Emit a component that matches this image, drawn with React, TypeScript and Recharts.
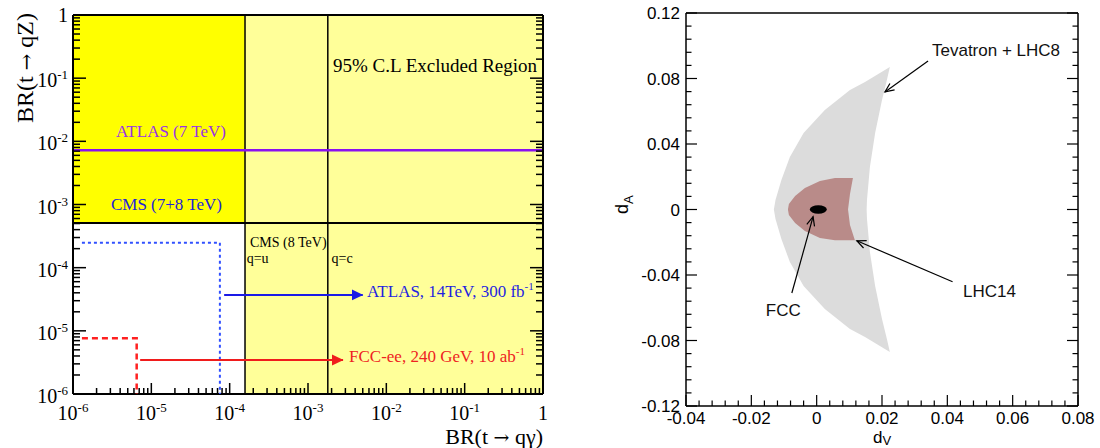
import React from "react";
import { ComposedChart, XAxis, YAxis, Scatter, ReferenceArea, ReferenceLine } from "recharts";

const SERIF = '"Liberation Serif", "Times New Roman", serif';
const SANS = '"Liberation Sans", Arial, Helvetica, sans-serif';
const ARROW_FONT = '"DejaVu Serif", serif';

// ---------- left panel: BR(t -> qZ) vs BR(t -> q gamma), log-log
const logMajor = [1e-6, 1e-5, 1e-4, 1e-3, 1e-2, 1e-1, 1];
const logMinor = logMajor.slice(0, -1).flatMap((d) => [2, 3, 4, 5, 6, 7, 8, 9].map((m) => m * d));
const logTicks = [...logMajor, ...logMinor];

// current limits
const cmsGammaU = 1.57e-4; // CMS 8 TeV, q=u
const cmsGammaC = 1.79e-3; // CMS 8 TeV, q=c
const cmsZ = 5.1e-4; // CMS 7+8 TeV
const atlasZ7 = 7.2e-3; // ATLAS 7 TeV

// future sensitivity
const atlas14Limit = [
  { x: 1.3e-6, y: 2.48e-4 },
  { x: 7.5e-5, y: 2.48e-4 },
  { x: 7.5e-5, y: 1e-6 },
];
const fccLimit = [
  { x: 1.3e-6, y: 7.6e-6 },
  { x: 6.5e-6, y: 7.6e-6 },
  { x: 6.5e-6, y: 1e-6 },
];
const atlas14Arrow = [
  { x: 8.5e-5, y: 3.7e-5 },
  { x: 5.0e-3, y: 3.7e-5 },
];
const fccArrow = [
  { x: 7.2e-6, y: 3.45e-6 },
  { x: 2.8e-3, y: 3.45e-6 },
];

const leftLabels = [
  { id: "atlas7", x: 1.78e-5, y: 1.43e-2, text: "ATLAS (7 TeV)" },
  { id: "cms78", x: 1.56e-5, y: 1.0e-3, text: "CMS (7+8 TeV)" },
  { id: "excl", x: 0.84, y: 0.159, text: "95% C.L Excluded Region" },
  { id: "cms8", x: 1.82e-4, y: 2.55e-4, text: "CMS (8 TeV)" },
  { id: "qu", x: 1.65e-4, y: 1.4e-4, text: "q=u" },
  { id: "qc", x: 2.0e-3, y: 1.4e-4, text: "q=c" },
  { id: "atlas14", x: 5.66e-3, y: 4.28e-5, text: "ATLAS, 14TeV, 300 fb", sup: "-1" },
  { id: "fccee", x: 3.34e-3, y: 4.0e-6, text: "FCC-ee, 240 GeV, 10 ab", sup: "-1" },
];

const leftLabelStyle: Record<string, { fill: string; anchor: string; size: number }> = {
  atlas7: { fill: "#9a33e6", anchor: "middle", size: 17 },
  cms78: { fill: "#2323d8", anchor: "middle", size: 17 },
  excl: { fill: "#000", anchor: "end", size: 19 },
  cms8: { fill: "#000", anchor: "start", size: 14 },
  qu: { fill: "#000", anchor: "start", size: 14 },
  qc: { fill: "#000", anchor: "start", size: 14 },
  atlas14: { fill: "#1f1fe0", anchor: "start", size: 17 },
  fccee: { fill: "#ee2222", anchor: "start", size: 17 },
};

// ---------- right panel: d_A vs d_V
const linXMajor = [-0.04, -0.02, 0, 0.02, 0.04, 0.06, 0.08];
const linXMinor = [
  -0.036, -0.032, -0.028, -0.024, -0.016, -0.012, -0.008, -0.004, 0.004, 0.008, 0.012, 0.016, 0.024,
  0.028, 0.032, 0.036, 0.044, 0.048, 0.052, 0.056, 0.064, 0.068, 0.072, 0.076,
];
const linYMajor = [-0.12, -0.08, -0.04, 0, 0.04, 0.08, 0.12];
const linYMinor = [
  -0.112, -0.104, -0.096, -0.088, -0.072, -0.064, -0.056, -0.048, -0.032, -0.024, -0.016, -0.008, 0.008,
  0.016, 0.024, 0.032, 0.048, 0.056, 0.064, 0.072, 0.088, 0.096, 0.104, 0.112,
];
const linXTicks = [...linXMajor, ...linXMinor];
const linYTicks = [...linYMajor, ...linYMinor];

// Tevatron + LHC8 allowed band (outer edge top->bottom, then inner edge bottom->top)
const tevatronLhc8 = [
  { x: 0.0224, y: 0.087 },
  { x: 0.0148, y: 0.0779 },
  { x: 0.0102, y: 0.073 },
  { x: 0.0025, y: 0.0608 },
  { x: -0.004, y: 0.0467 },
  { x: -0.0082, y: 0.0321 },
  { x: -0.0108, y: 0.018 },
  { x: -0.0126, y: 0.0058 },
  { x: -0.0131, y: 0 },
  { x: -0.0126, y: -0.0058 },
  { x: -0.0108, y: -0.018 },
  { x: -0.0082, y: -0.0321 },
  { x: -0.004, y: -0.0467 },
  { x: 0.0025, y: -0.0608 },
  { x: 0.0102, y: -0.073 },
  { x: 0.0148, y: -0.0779 },
  { x: 0.0224, y: -0.087 },
  { x: 0.0215, y: -0.0791 },
  { x: 0.02, y: -0.0669 },
  { x: 0.0179, y: -0.0467 },
  { x: 0.0163, y: -0.026 },
  { x: 0.0154, y: -0.0058 },
  { x: 0.0153, y: 0 },
  { x: 0.0154, y: 0.0058 },
  { x: 0.0163, y: 0.026 },
  { x: 0.0179, y: 0.0467 },
  { x: 0.02, y: 0.0669 },
  { x: 0.0215, y: 0.0791 },
];

const lhc14 = [
  { x: 0.0111, y: 0.0192 },
  { x: 0.0056, y: 0.0192 },
  { x: 0.001, y: 0.0174 },
  { x: -0.0036, y: 0.0131 },
  { x: -0.0066, y: 0.0082 },
  { x: -0.0085, y: 0.0034 },
  { x: -0.0088, y: 0 },
  { x: -0.0085, y: -0.0034 },
  { x: -0.0066, y: -0.0082 },
  { x: -0.0036, y: -0.0131 },
  { x: 0.001, y: -0.0174 },
  { x: 0.0056, y: -0.0188 },
  { x: 0.0117, y: -0.0188 },
  { x: 0.0102, y: -0.0095 },
  { x: 0.0096, y: 0 },
  { x: 0.0102, y: 0.0095 },
];

const fcc = [{ x: 0.0005, y: 0 }];

const tevArrow = [
  { x: 0.0341, y: 0.0907 },
  { x: 0.0209, y: 0.0718 },
];
const lhc14Arrow = [
  { x: 0.0416, y: -0.0441 },
  { x: 0.0123, y: -0.0191 },
];
const fccPointer = [
  { x: -0.0076, y: -0.051 },
  { x: -0.0011, y: -0.0044 },
];

const rightLabels = [
  { id: "tev", x: 0.0353, y: 0.0974, text: "Tevatron + LHC8" },
  { id: "lhc14", x: 0.0448, y: -0.0498, text: "LHC14" },
  { id: "fcc", x: -0.0102, y: -0.0614, text: "FCC" },
];
const rightLabelAnchor: Record<string, string> = { tev: "start", lhc14: "start", fcc: "middle" };

// ---------- helpers
type Side = "bottom" | "top" | "left" | "right";

const isDecade = (v: number) => Math.abs(Math.log10(v) - Math.round(Math.log10(v))) < 1e-6;
const inList = (list: number[]) => (v: number) => list.some((m) => Math.abs(m - v) < 1e-9);

// one axis draws both major and minor ticks, pointing into the frame
const tickMark =
  (
    side: Side,
    major: (v: number) => boolean,
    lenMajor: number,
    lenMinor: number,
    w: number,
    label?: (v: number, x: number, y: number) => React.ReactNode
  ) =>
  (p: any) => {
    const { x, y, payload } = p;
    const v = payload.value;
    const isMaj = major(v);
    const len = isMaj ? lenMajor : lenMinor;
    let x2 = x;
    let y2 = y;
    if (side === "bottom") y2 = y - len;
    else if (side === "top") y2 = y + len;
    else if (side === "left") x2 = x + len;
    else x2 = x - len;
    return (
      <g>
        <line x1={x} y1={y} x2={x2} y2={y2} stroke="#000" strokeWidth={w} />
        {label && isMaj ? label(v, x, y) : null}
      </g>
    );
  };

const pow10 = (v: number) => {
  const e = Math.round(Math.log10(v));
  if (e === 0) return "1";
  return (
    <>
      10
      <tspan dy={-8} fontSize={13}>
        {e}
      </tspan>
    </>
  );
};

const logXLabel = (v: number, x: number, y: number) => (
  <text x={x} y={y + 26} textAnchor="middle" fontFamily={SERIF} fontSize={20} fill="#000">
    {pow10(v)}
  </text>
);
const logYLabel = (v: number, x: number, y: number) => (
  <text x={x - 5} y={y + (v === 1 ? 7 : 9)} textAnchor="end" fontFamily={SERIF} fontSize={20} fill="#000">
    {pow10(v)}
  </text>
);
const linXLabel = (v: number, x: number, y: number) => (
  <text x={x} y={y + 17.5} textAnchor="middle" fontFamily={SANS} fontSize={17} fill="#000">
    {String(v)}
  </text>
);
const linYLabel = (v: number, x: number, y: number) => (
  <text x={x - 6} y={y + 6} textAnchor="end" fontFamily={SANS} fontSize={17} fill="#000">
    {String(v)}
  </text>
);

const noDot = () => <g />;

const pathOf = (pts: any[]) => pts.map((q, i) => `${i ? "L" : "M"}${q.x},${q.y}`).join(" ");

const polyLine = (fill: string) => (p: any) => <path d={pathOf(p.points) + " Z"} fill={fill} stroke="none" />;

const strokeLine = (stroke: string, width: number, dash?: string, marker?: string) => (p: any) => (
  <path
    d={pathOf(p.points)}
    fill="none"
    stroke={stroke}
    strokeWidth={width}
    strokeDasharray={dash}
    markerEnd={marker ? `url(#${marker})` : undefined}
  />
);

const LeftLabel = (p: any) => {
  const d = p.payload;
  const s = leftLabelStyle[d.id];
  return (
    <text x={p.cx} y={p.cy} dy={s.size * 0.35} textAnchor={s.anchor} fontFamily={SERIF} fontSize={s.size} fill={s.fill}>
      {d.text}
      {d.sup ? (
        <tspan dy={-7} fontSize={11}>
          {d.sup}
        </tspan>
      ) : null}
    </text>
  );
};

const RightLabel = (p: any) => {
  const d = p.payload;
  return (
    <text x={p.cx} y={p.cy} dy={6} textAnchor={rightLabelAnchor[d.id]} fontFamily={SANS} fontSize={17} fill="#111">
      {d.text}
    </text>
  );
};

const FccDot = (p: any) => <ellipse cx={p.cx} cy={p.cy} rx={8.5} ry={4.2} fill="#000" />;

const logAxis = {
  type: "number" as const,
  scale: "log" as const,
  domain: [1e-6, 1],
  allowDataOverflow: true,
  interval: 0 as const,
  tickSize: 0,
  tickMargin: 0,
  tickLine: false,
  ticks: logTicks,
};
const frame = { stroke: "#000", strokeWidth: 2 };

function LeftPanel() {
  return (
    <ComposedChart width={560} height={448} margin={{ top: 14, right: 16, bottom: 53, left: 72 }}>
      <ReferenceArea x1={cmsGammaU} x2={1} y1={1e-6} y2={1} fill="#ffff99" fillOpacity={1} stroke="none" />
      <ReferenceArea x1={1e-6} x2={cmsGammaU} y1={cmsZ} y2={1} fill="#ffff00" fillOpacity={1} stroke="none" />
      <ReferenceLine x={cmsGammaU} stroke="#000" strokeWidth={1.5} />
      <ReferenceLine x={cmsGammaC} stroke="#000" strokeWidth={1.5} />
      <ReferenceLine y={cmsZ} stroke="#000" strokeWidth={2} />
      <ReferenceLine y={atlasZ7} stroke="#8a10f0" strokeWidth={2.5} />

      <Scatter data={atlas14Limit} shape={noDot} line={strokeLine("#3050ff", 2, "3 3")} isAnimationActive={false} />
      <Scatter data={fccLimit} shape={noDot} line={strokeLine("#ff2020", 2.5, "6 4")} isAnimationActive={false} />
      <Scatter data={atlas14Arrow} shape={noDot} line={strokeLine("#1a1ae6", 2, undefined, "headBlue")} isAnimationActive={false} />
      <Scatter data={fccArrow} shape={noDot} line={strokeLine("#f01c1c", 2, undefined, "headRed")} isAnimationActive={false} />
      <Scatter data={leftLabels} shape={LeftLabel} isAnimationActive={false} />

      <XAxis dataKey="x" {...logAxis} height={1} axisLine={frame} tick={tickMark("bottom", isDecade, 11, 6, 1.5, logXLabel)} />
      <XAxis xAxisId="t" orientation="top" {...logAxis} height={1} axisLine={frame} tick={tickMark("top", isDecade, 12, 6, 1.5)} />
      <YAxis dataKey="y" {...logAxis} width={1} axisLine={frame} tick={tickMark("left", isDecade, 13, 7, 1.5, logYLabel)} />
      <YAxis yAxisId="r" orientation="right" {...logAxis} width={1} axisLine={frame} tick={tickMark("right", isDecade, 13, 7, 1.5)} />
    </ComposedChart>
  );
}

const linBase = {
  type: "number" as const,
  allowDataOverflow: true,
  interval: 0 as const,
  tickSize: 0,
  tickMargin: 0,
  tickLine: false,
};
const frameR = { stroke: "#000", strokeWidth: 1.5 };
const xMaj = inList(linXMajor);
const yMaj = inList(linYMajor);

function RightPanel() {
  return (
    <ComposedChart width={540} height={448} margin={{ top: 12, right: 21, bottom: 41, left: 125 }}>
      <Scatter data={tevatronLhc8} shape={noDot} line={polyLine("#dcdcdc")} isAnimationActive={false} />
      <Scatter data={lhc14} shape={noDot} line={polyLine("#b98b89")} isAnimationActive={false} />
      <Scatter data={fcc} shape={FccDot} isAnimationActive={false} />
      <Scatter data={tevArrow} shape={noDot} line={strokeLine("#000", 1.2, undefined, "headOpen")} isAnimationActive={false} />
      <Scatter data={lhc14Arrow} shape={noDot} line={strokeLine("#000", 1.2, undefined, "headOpen")} isAnimationActive={false} />
      <Scatter data={fccPointer} shape={noDot} line={strokeLine("#000", 1.2, undefined, "headOpen")} isAnimationActive={false} />
      <Scatter data={rightLabels} shape={RightLabel} isAnimationActive={false} />

      <XAxis dataKey="x" {...linBase} domain={[-0.04, 0.08]} ticks={linXTicks} height={1} axisLine={frameR} tick={tickMark("bottom", xMaj, 11, 5.5, 1.2, linXLabel)} />
      <XAxis xAxisId="t" orientation="top" {...linBase} domain={[-0.04, 0.08]} ticks={linXTicks} height={1} axisLine={frameR} tick={tickMark("top", xMaj, 11, 5.5, 1.2)} />
      <YAxis dataKey="y" {...linBase} domain={[-0.12, 0.12]} ticks={linYTicks} width={1} axisLine={frameR} tick={tickMark("left", yMaj, 11, 5.5, 1.2, linYLabel)} />
      <YAxis yAxisId="r" orientation="right" {...linBase} domain={[-0.12, 0.12]} ticks={linYTicks} width={1} axisLine={frameR} tick={tickMark("right", yMaj, 11, 5.5, 1.2)} />
    </ComposedChart>
  );
}

export default function App() {
  return (
    <div style={{ position: "absolute", left: 0, top: 0, width: 1100, height: 448, background: "#fff" }}>
      <div style={{ position: "absolute", left: 0, top: 0 }}>
        <LeftPanel />
      </div>
      <div style={{ position: "absolute", left: 560, top: 0 }}>
        <RightPanel />
      </div>
      <svg width={1100} height={448} style={{ position: "absolute", left: 0, top: 0, pointerEvents: "none" }}>
        <defs>
          <marker id="headBlue" viewBox="0 0 12 12" refX={11} refY={6} markerWidth={12} markerHeight={12} markerUnits="userSpaceOnUse" orient="auto">
            <path d="M0,0.5 L11.5,6 L0,11.5 Z" fill="#1a1ae6" />
          </marker>
          <marker id="headRed" viewBox="0 0 12 12" refX={11} refY={6} markerWidth={12} markerHeight={12} markerUnits="userSpaceOnUse" orient="auto">
            <path d="M0,0.5 L11.5,6 L0,11.5 Z" fill="#f01c1c" />
          </marker>
          <marker id="headOpen" viewBox="-1 -1 12 10" refX={9} refY={4} markerWidth={12} markerHeight={10} markerUnits="userSpaceOnUse" orient="auto">
            <path d="M0,0 L9,4 L0,8" fill="none" stroke="#000" strokeWidth={1.2} />
          </marker>
        </defs>
        {/* axis titles */}
        <text transform="translate(33,13) rotate(-90)" textAnchor="end" fontFamily={SERIF} fontSize={24} fill="#000">
          BR(t <tspan fontFamily={ARROW_FONT} fontSize={20}>→</tspan> qZ)
        </text>
        <text x={543} y={443.5} textAnchor="end" fontFamily={SERIF} fontSize={22} fill="#000">
          BR(t <tspan fontFamily={ARROW_FONT} fontSize={19}>→</tspan> qγ)
        </text>
        <text transform="translate(628,214) rotate(-90)" fontFamily={SANS} fontSize={18} fill="#000">
          d<tspan dy={5} fontSize={13}>A</tspan>
        </text>
        <text x={873} y={443} fontFamily={SANS} fontSize={17} fill="#000">
          d<tspan dy={2} fontSize={13}>V</tspan>
        </text>
      </svg>
    </div>
  );
}
